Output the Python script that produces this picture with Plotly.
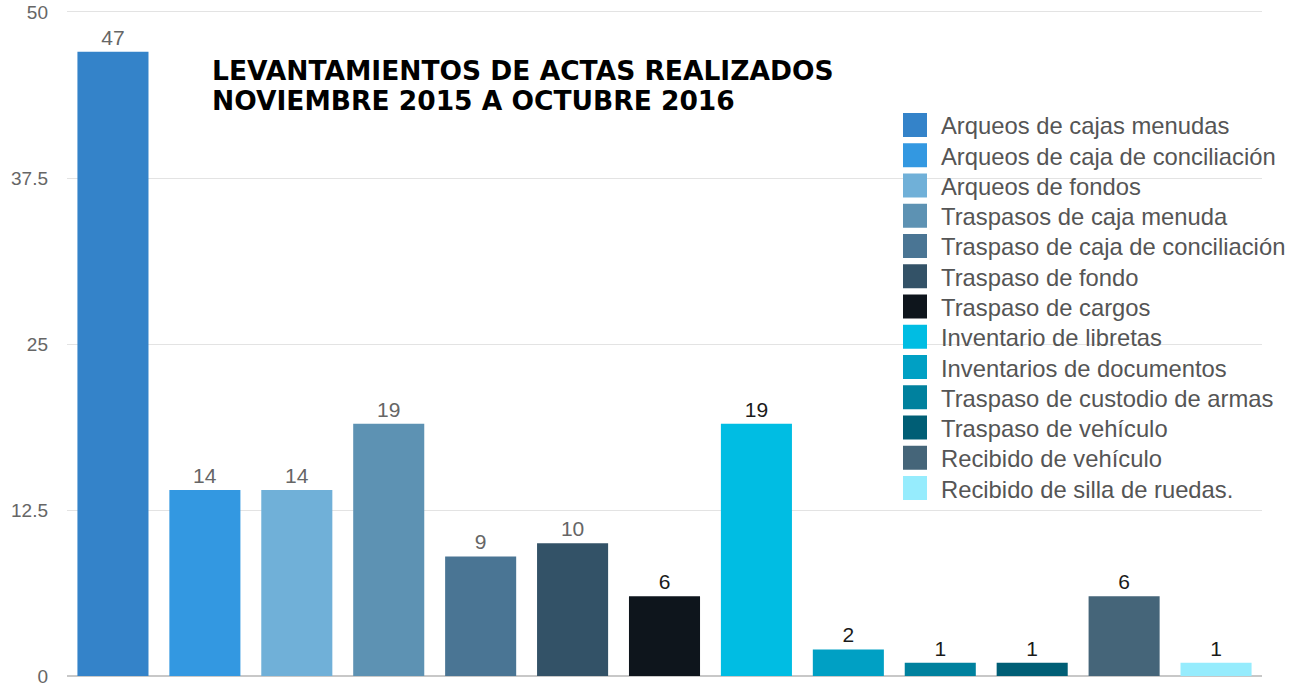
import plotly.graph_objects as go

categories = [
    "Arqueos de cajas menudas",
    "Arqueos de caja de conciliación",
    "Arqueos de fondos",
    "Traspasos de caja menuda",
    "Traspaso de caja de conciliación",
    "Traspaso de fondo",
    "Traspaso de cargos",
    "Inventario de libretas",
    "Inventarios de documentos",
    "Traspaso de custodio de armas",
    "Traspaso de vehículo",
    "Recibido de vehículo",
    "Recibido de silla de ruedas.",
]
values = [47, 14, 14, 19, 9, 10, 6, 19, 2, 1, 1, 6, 1]
colors = ["#3483c9", "#3398e1", "#70b0d8", "#5d92b3", "#4a7594", "#335267",
          "#0e151c", "#00bde3", "#00a0c4", "#00819e", "#005e75", "#456579", "#96ecfd"]
label_colors = ["#666666"] * 6 + ["#1a1a1a"] * 7
y_ticks = [0, 12.5, 25, 37.5, 50]
y_tick_text = ["0", "12.5", "25", "37.5", "50"]
title_lines = ["LEVANTAMIENTOS DE ACTAS REALIZADOS", "NOVIEMBRE 2015 A OCTUBRE 2016"]

W, H = 1294, 688
Y0, Y1 = -0.15, 50.15
UNIT = (676 - 12) / 50.0
top_px = 12 - (Y1 - 50) * UNIT
bot_px = 676 + (0 - Y0) * UNIT
L = 67
R = W - 1262
T = top_px
B = H - bot_px
pw, ph = W - L - R, H - T - B


def px(x):
    return (x - L) / pw


def py(y):
    return (H - B - y) / ph


fig = go.Figure()
for i, (c, v) in enumerate(zip(categories, values)):
    fig.add_trace(go.Bar(
        x=[c], y=[v], marker=dict(color=colors[i], line=dict(width=0)),
        text=[str(v)], textposition="outside", cliponaxis=False,
        textfont=dict(size=21, color=label_colors[i], family="Liberation Sans"),
        showlegend=False, hoverinfo="x+y",
    ))

shapes = []
annotations = []
# manual legend
for i, c in enumerate(categories):
    cy = 125 + i * 30.25
    shapes.append(dict(type="rect", xref="paper", yref="paper",
                       x0=px(903), x1=px(927), y0=py(cy + 12), y1=py(cy - 12),
                       fillcolor=colors[i], line=dict(width=0), layer="above"))
    annotations.append(dict(text=c, xref="paper", yref="paper", x=px(939), y=py(cy + 1),
                            xanchor="left", yanchor="middle", showarrow=False,
                            font=dict(size=23.8, color="#555555", family="Liberation Sans")))
# title
for j, line in enumerate(title_lines):
    annotations.append(dict(text="<b>" + line + "</b>", xref="paper", yref="paper",
                            x=px(210), y=py(71 + j * 29.5), xanchor="left", yanchor="middle",
                            showarrow=False,
                            font=dict(size=26.5, color="#000000", family="DejaVu Sans")))

tick_font = dict(size=19, color="#666666", family="Liberation Sans")

fig.update_layout(
    width=W, height=H,
    margin=dict(l=L, r=R, t=T, b=B, autoexpand=False),
    paper_bgcolor="white", plot_bgcolor="white",
    barmode="relative", bargap=0.227,
    shapes=shapes, annotations=annotations,
    xaxis=dict(showticklabels=False, showgrid=False, zeroline=False,
               showline=False, ticks="", automargin=False),
    yaxis=dict(range=[Y0, Y1], tickvals=y_ticks, ticktext=y_tick_text,
               showgrid=True, gridcolor="#e3e3e3", gridwidth=1,
               zeroline=True, zerolinecolor="#c8c8c8", zerolinewidth=2,
               showline=False, ticks="", ticklabelstandoff=18, automargin=False,
               ticklabeloverflow="allow",
               tickfont=tick_font),
    font=dict(family="Liberation Sans"),
)

fig.write_html("out.html", config={"displayModeBar": False},
               post_script="document.body.style.margin='0';document.body.style.overflow='hidden';")
